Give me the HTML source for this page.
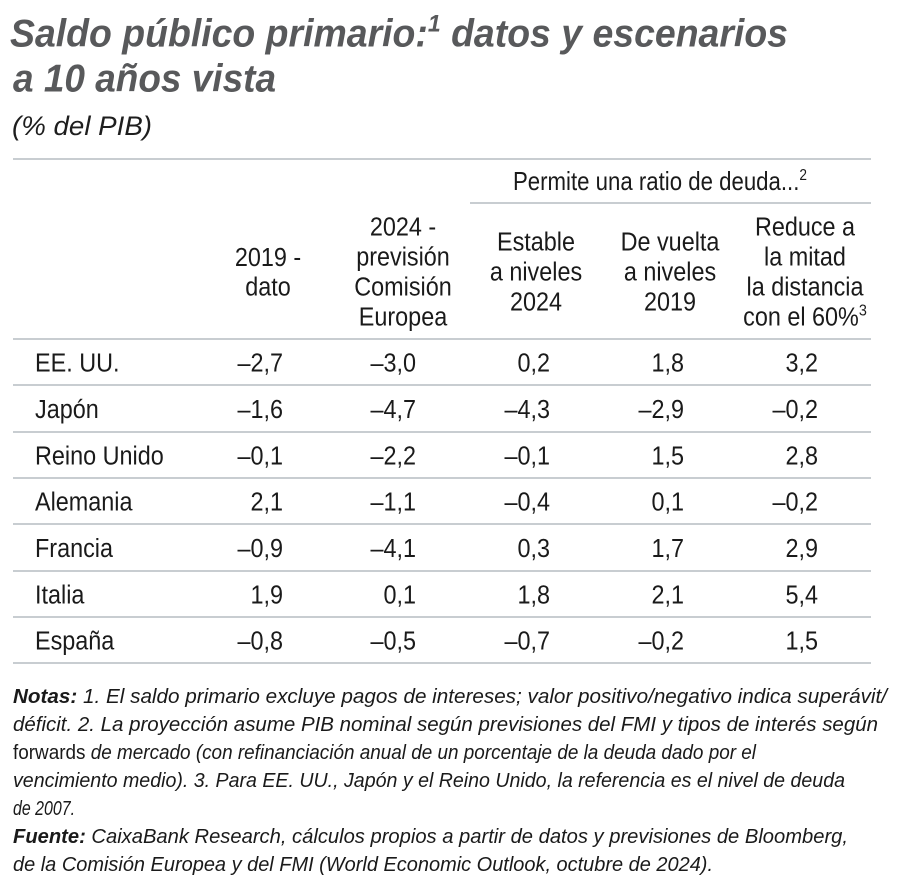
<!DOCTYPE html>
<html><head><meta charset="utf-8">
<style>
html,body{margin:0;padding:0;background:#fff;}
svg{display:block;}
text{font-family:"Liberation Sans",Arial,sans-serif;}
</style></head><body>
<svg width="900" height="893" viewBox="0 0 900 893" xmlns="http://www.w3.org/2000/svg">
<rect width="900" height="893" fill="#fff"/>
<!-- Title -->
<g fill="#58595b" font-weight="bold" font-style="italic" font-size="39">
<text x="10" y="46.5" textLength="778" lengthAdjust="spacingAndGlyphs">Saldo público primario:<tspan font-size="24" dy="-15">1</tspan><tspan dy="15"> datos y escenarios</tspan></text>
<text x="13" y="91.5" textLength="263" lengthAdjust="spacingAndGlyphs">a 10 años vista</text>
</g>
<text x="12" y="135" font-style="italic" font-size="27" fill="#1e1e1e" textLength="140" lengthAdjust="spacingAndGlyphs">(% del PIB)</text>

<!-- Lines -->
<g stroke="#c8cdd1" stroke-width="2">
<line x1="13" y1="159" x2="871" y2="159"/>
<line x1="470" y1="203" x2="871" y2="203"/>
<line x1="13" y1="339" x2="871" y2="339"/>
<line x1="13" y1="385" x2="871" y2="385"/>
<line x1="13" y1="432" x2="871" y2="432"/>
<line x1="13" y1="478" x2="871" y2="478"/>
<line x1="13" y1="524" x2="871" y2="524"/>
<line x1="13" y1="571" x2="871" y2="571"/>
<line x1="13" y1="617" x2="871" y2="617"/>
<line x1="13" y1="663" x2="871" y2="663"/>
</g>

<!-- Header -->
<g fill="#1a1a1a" font-size="26">
<text x="513" y="190" textLength="294" lengthAdjust="spacingAndGlyphs">Permite una ratio de deuda...<tspan font-size="16" dy="-10">2</tspan></text>
</g>
<g fill="#1a1a1a" font-size="26" text-anchor="middle">
<text transform="translate(268,266) scale(0.9,1)">2019 -</text>
<text transform="translate(268,295.5) scale(0.9,1)">dato</text>

<text transform="translate(403,235.5) scale(0.9,1)">2024 -</text>
<text transform="translate(403,265.5) scale(0.9,1)">previsión</text>
<text transform="translate(403,295.5) scale(0.9,1)">Comisión</text>
<text transform="translate(403,325.5) scale(0.9,1)">Europea</text>

<text transform="translate(536,250.5) scale(0.9,1)">Estable</text>
<text transform="translate(536,280.5) scale(0.9,1)">a niveles</text>
<text transform="translate(536,310.5) scale(0.9,1)">2024</text>

<text transform="translate(670,250.5) scale(0.9,1)">De vuelta</text>
<text transform="translate(670,280.5) scale(0.9,1)">a niveles</text>
<text transform="translate(670,310.5) scale(0.9,1)">2019</text>

<text transform="translate(805,235.5) scale(0.9,1)">Reduce a</text>
<text transform="translate(805,265.5) scale(0.9,1)">la mitad</text>
<text transform="translate(805,295.5) scale(0.9,1)">la distancia</text>
<text transform="translate(805,325.5) scale(0.9,1)">con el 60%<tspan font-size="16" dy="-10">3</tspan></text>
</g>

<!-- Row labels -->
<g fill="#1a1a1a" font-size="26">
<text transform="translate(35,371.5) scale(0.9,1)">EE. UU.</text>
<text transform="translate(35,418) scale(0.9,1)">Japón</text>
<text transform="translate(35,464.5) scale(0.9,1)">Reino Unido</text>
<text transform="translate(35,510.5) scale(0.9,1)">Alemania</text>
<text transform="translate(35,557) scale(0.9,1)">Francia</text>
<text transform="translate(35,603.5) scale(0.9,1)">Italia</text>
<text transform="translate(35,649.5) scale(0.9,1)">España</text>
</g>

<!-- Numbers -->
<g fill="#1a1a1a" font-size="26" text-anchor="end">
<text transform="translate(283,371.5) scale(0.9,1)">–2,7</text>
<text transform="translate(416,371.5) scale(0.9,1)">–3,0</text>
<text transform="translate(550,371.5) scale(0.9,1)">0,2</text>
<text transform="translate(684,371.5) scale(0.9,1)">1,8</text>
<text transform="translate(818,371.5) scale(0.9,1)">3,2</text>

<text transform="translate(283,418) scale(0.9,1)">–1,6</text>
<text transform="translate(416,418) scale(0.9,1)">–4,7</text>
<text transform="translate(550,418) scale(0.9,1)">–4,3</text>
<text transform="translate(684,418) scale(0.9,1)">–2,9</text>
<text transform="translate(818,418) scale(0.9,1)">–0,2</text>

<text transform="translate(283,464.5) scale(0.9,1)">–0,1</text>
<text transform="translate(416,464.5) scale(0.9,1)">–2,2</text>
<text transform="translate(550,464.5) scale(0.9,1)">–0,1</text>
<text transform="translate(684,464.5) scale(0.9,1)">1,5</text>
<text transform="translate(818,464.5) scale(0.9,1)">2,8</text>

<text transform="translate(283,510.5) scale(0.9,1)">2,1</text>
<text transform="translate(416,510.5) scale(0.9,1)">–1,1</text>
<text transform="translate(550,510.5) scale(0.9,1)">–0,4</text>
<text transform="translate(684,510.5) scale(0.9,1)">0,1</text>
<text transform="translate(818,510.5) scale(0.9,1)">–0,2</text>

<text transform="translate(283,557) scale(0.9,1)">–0,9</text>
<text transform="translate(416,557) scale(0.9,1)">–4,1</text>
<text transform="translate(550,557) scale(0.9,1)">0,3</text>
<text transform="translate(684,557) scale(0.9,1)">1,7</text>
<text transform="translate(818,557) scale(0.9,1)">2,9</text>

<text transform="translate(283,603.5) scale(0.9,1)">1,9</text>
<text transform="translate(416,603.5) scale(0.9,1)">0,1</text>
<text transform="translate(550,603.5) scale(0.9,1)">1,8</text>
<text transform="translate(684,603.5) scale(0.9,1)">2,1</text>
<text transform="translate(818,603.5) scale(0.9,1)">5,4</text>

<text transform="translate(283,649.5) scale(0.9,1)">–0,8</text>
<text transform="translate(416,649.5) scale(0.9,1)">–0,5</text>
<text transform="translate(550,649.5) scale(0.9,1)">–0,7</text>
<text transform="translate(684,649.5) scale(0.9,1)">–0,2</text>
<text transform="translate(818,649.5) scale(0.9,1)">1,5</text>
</g>

<!-- Notes -->
<g font-size="20" fill="#1a1a1a" font-style="italic">
<text x="13" y="703" textLength="874" lengthAdjust="spacingAndGlyphs"><tspan font-weight="bold">Notas:</tspan> 1. El saldo primario excluye pagos de intereses; valor positivo/negativo indica superávit/</text>
<text x="13" y="731" textLength="865" lengthAdjust="spacingAndGlyphs">déficit. 2. La proyección asume PIB nominal según previsiones del FMI y tipos de interés según</text>
<text x="13" y="759" textLength="743" lengthAdjust="spacingAndGlyphs"><tspan font-style="normal">forwards</tspan> de mercado (con refinanciación anual de un porcentaje de la deuda dado por el</text>
<text x="13" y="787" textLength="832" lengthAdjust="spacingAndGlyphs">vencimiento medio). 3. Para EE. UU., Japón y el Reino Unido, la referencia es el nivel de deuda</text>
<text x="13" y="815" textLength="62" lengthAdjust="spacingAndGlyphs">de 2007.</text>
<text x="13" y="843" textLength="835" lengthAdjust="spacingAndGlyphs"><tspan font-weight="bold">Fuente:</tspan> CaixaBank Research, cálculos propios a partir de datos y previsiones de Bloomberg,</text>
<text x="13" y="871" textLength="700" lengthAdjust="spacingAndGlyphs">de la Comisión Europea y del FMI (World Economic Outlook, octubre de 2024).</text>
</g>
</svg>
</body></html>
